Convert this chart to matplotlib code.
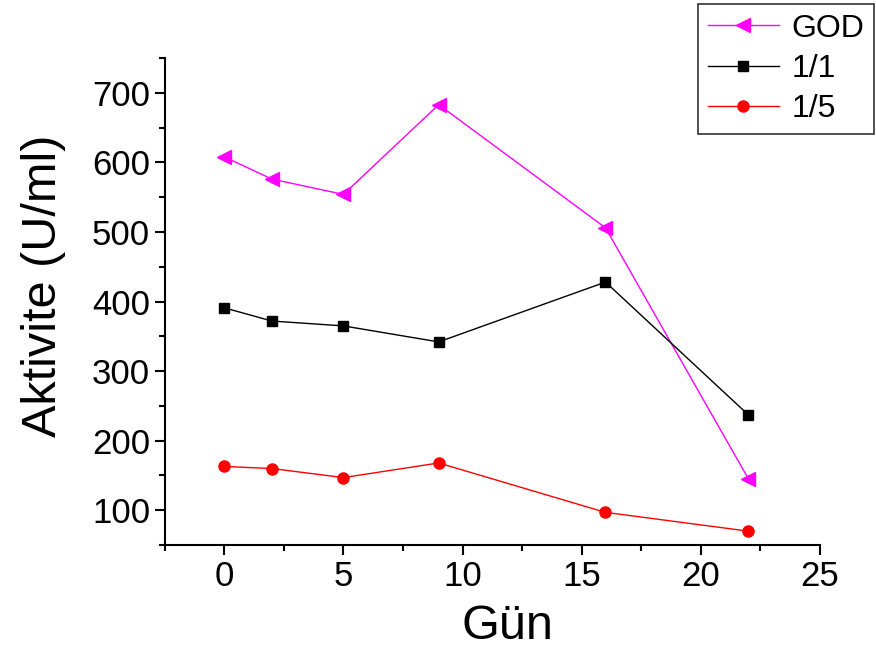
import matplotlib
matplotlib.use("Agg")
import matplotlib.pyplot as plt
from matplotlib.ticker import MultipleLocator

plt.rcParams['font.family'] = ['Liberation Sans', 'DejaVu Sans']

days = [0, 2, 5, 9, 16, 22]
god = [608, 576, 554, 683, 506, 145]
r11 = [391, 372, 365, 342, 428, 237]
r15 = [163, 160, 147, 168, 97, 70]

fig = plt.figure(figsize=(8.76, 6.52), dpi=100)
ax = fig.add_axes([0.188, 0.164, 0.748, 0.747])

ax.plot(days, god, color='#ff00ff', marker='<', markersize=10, lw=1, label='GOD')
ax.plot(days, r11, color='black', marker='s', markersize=7, lw=1, label='1/1')
ax.plot(days, r15, color='red', marker='o', markersize=8, lw=1, label='1/5')

ax.set_xlim(-2.5, 25)
ax.set_ylim(50, 750)
ax.xaxis.set_major_locator(MultipleLocator(5))
ax.xaxis.set_minor_locator(MultipleLocator(2.5))
ax.set_yticks([100, 200, 300, 400, 500, 600, 700])
ax.yaxis.set_minor_locator(MultipleLocator(50))
for s in ['top', 'right']:
    ax.spines[s].set_visible(False)
for s in ['left', 'bottom']:
    ax.spines[s].set_linewidth(1.5)
ax.tick_params(which='major', direction='out', length=7, width=1.5, labelsize=25)
ax.tick_params(which='minor', direction='out', length=4, width=1.5)

ax.set_xlabel('Gün', fontsize=35, labelpad=8)
ax.xaxis.label.set_x(0.523)
ax.set_ylabel('Aktivite (U/ml)', fontsize=35, labelpad=19)
ax.yaxis.label.set_y(0.532)

leg = ax.legend(loc='upper right', bbox_to_anchor=(0.9977, 0.9939), bbox_transform=fig.transFigure,
                fontsize=23, frameon=True, fancybox=False, edgecolor='black',
                handlelength=2.25, borderpad=0.3, labelspacing=0.32, handletextpad=0.38,
                borderaxespad=0)
leg.get_frame().set_linewidth(1.2)

fig.savefig('out.png', dpi=100)
